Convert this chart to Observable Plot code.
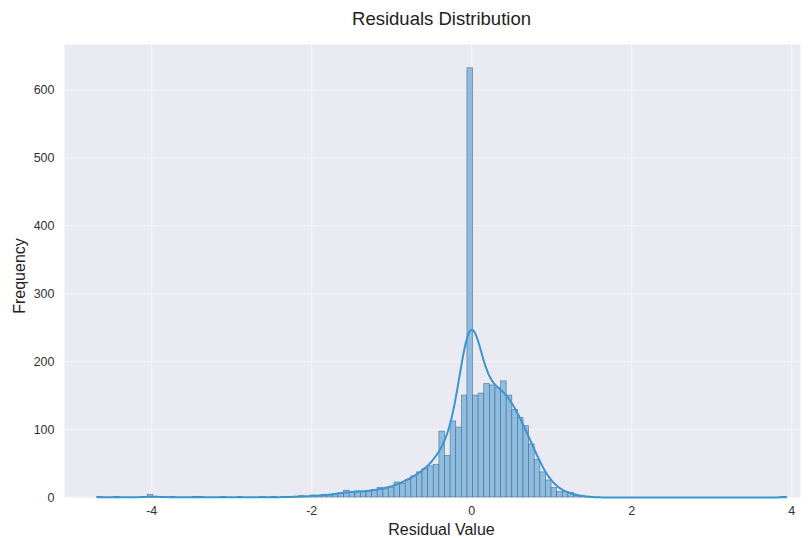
<!DOCTYPE html>
<html><head><meta charset="utf-8">
<script src="https://cdn.jsdelivr.net/npm/d3@7"></script>
<script src="https://cdn.jsdelivr.net/npm/@observablehq/plot@0.6"></script>
<style>body{margin:0;background:#fff;font-family:"Liberation Sans",Arial,sans-serif}</style>
</head><body><div id="chart"></div>
<script>
const title = "Residuals Distribution";
const xLabel = "Residual Value";
const yLabel = "Frequency";
const xTicks = [-4, -2, 0, 2, 4];
const yTicks = [0, 100, 200, 300, 400, 500, 600];
const dataMin = -4.68;
const dataMax = 3.93;
const binStart = -4.68;
const binWidth = 0.0701;
// histogram counts per bin
const counts = [
  1, 0, 0, 1, 0, 0, 0, 0, 0, 4,
  1, 0, 0, 1, 0, 0, 0, 1, 1, 0,
  0, 0, 1, 0, 0, 1, 0, 0, 0, 1,
  0, 1, 0, 1, 0, 1, 2, 1, 3, 2,
  4, 3, 5, 6, 10, 8, 9, 8, 9, 11,
  14, 12, 14, 22, 20, 26, 31, 37, 42, 46,
  48, 97, 61, 112, 103, 150, 632, 150, 153, 167,
  165, 161, 171, 150, 129, 117, 105, 78, 55, 37,
  25, 14, 8, 8, 7, 2, 1, 1, 0, 0,
  0, 0, 0, 0, 0, 0, 0, 0, 0, 0,
  0, 0, 0, 0, 0, 0, 0, 0, 0, 0,
  0, 0, 0, 0, 0, 0, 0, 0, 0, 0,
  0, 0, 1
];
const bwAdjust = 1.18;

const bins = counts.map((c, i) => ({x1: binStart + i * binWidth, x2: binStart + (i + 1) * binWidth, count: c}));
const n = d3.sum(counts);
const mids = bins.map(b => (b.x1 + b.x2) / 2);
const mean = d3.sum(bins, (b, i) => b.count * mids[i]) / n;
const sd = Math.sqrt(d3.sum(bins, (b, i) => b.count * (mids[i] - mean) ** 2) / (n - 1));
const h = sd * Math.pow(n, -0.2) * bwAdjust;
const kde = d3.range(0, 401).map(k => {
  const x = dataMin + (dataMax - dataMin) * k / 400;
  let s = 0;
  for (let i = 0; i < counts.length; i++) {
    if (!counts[i]) continue;
    const u = (x - mids[i]) / h;
    s += counts[i] * Math.exp(-0.5 * u * u);
  }
  return {x, y: s / (h * Math.sqrt(2 * Math.PI)) * binWidth};
});

const chart = Plot.plot({
  width: 808, height: 538,
  marginTop: 44, marginBottom: 41, marginLeft: 64, marginRight: 8,
  style: {fontFamily: '"Liberation Sans", Arial, sans-serif', background: "#fff"},
  x: {domain: [-5.09, 4.11]},
  y: {domain: [0, 667]},
  marks: [
    Plot.frame({fill: "#eaeaf2", stroke: null}),
    Plot.ruleX(xTicks, {stroke: "#f5f5f9", strokeWidth: 1}),
    Plot.ruleY(yTicks, {stroke: "#f5f5f9", strokeWidth: 1}),
    Plot.rectY(bins.filter(b => b.count > 0), {x1: "x1", x2: "x2", y: "count", fill: "#8fbde0", stroke: "#3d6488", strokeWidth: 0.7, strokeOpacity: 0.75}),
    Plot.line(kde, {x: "x", y: "y", stroke: "#3b95d0", strokeWidth: 2}),
    Plot.axisX({ticks: xTicks, tickFormat: d => String(d), tickSize: 0, tickPadding: 9, fontSize: 12.5, label: null, color: "#333"}),
    Plot.axisY({ticks: yTicks, tickFormat: d => String(d), tickSize: 0, tickPadding: 10, fontSize: 12.5, label: null, color: "#333"}),
    Plot.text([title], {frameAnchor: "top", dx: 9, dy: -33, fontSize: 18.5, fill: "#222"}),
    Plot.text([xLabel], {frameAnchor: "bottom", dx: 9, dy: 37, fontSize: 16, fill: "#222"}),
    Plot.text([yLabel], {frameAnchor: "left", textAnchor: "middle", dx: -45, dy: 5, rotate: -90, fontSize: 16, fill: "#222"})
  ]
});
document.getElementById("chart").appendChild(chart);
</script></body></html>
